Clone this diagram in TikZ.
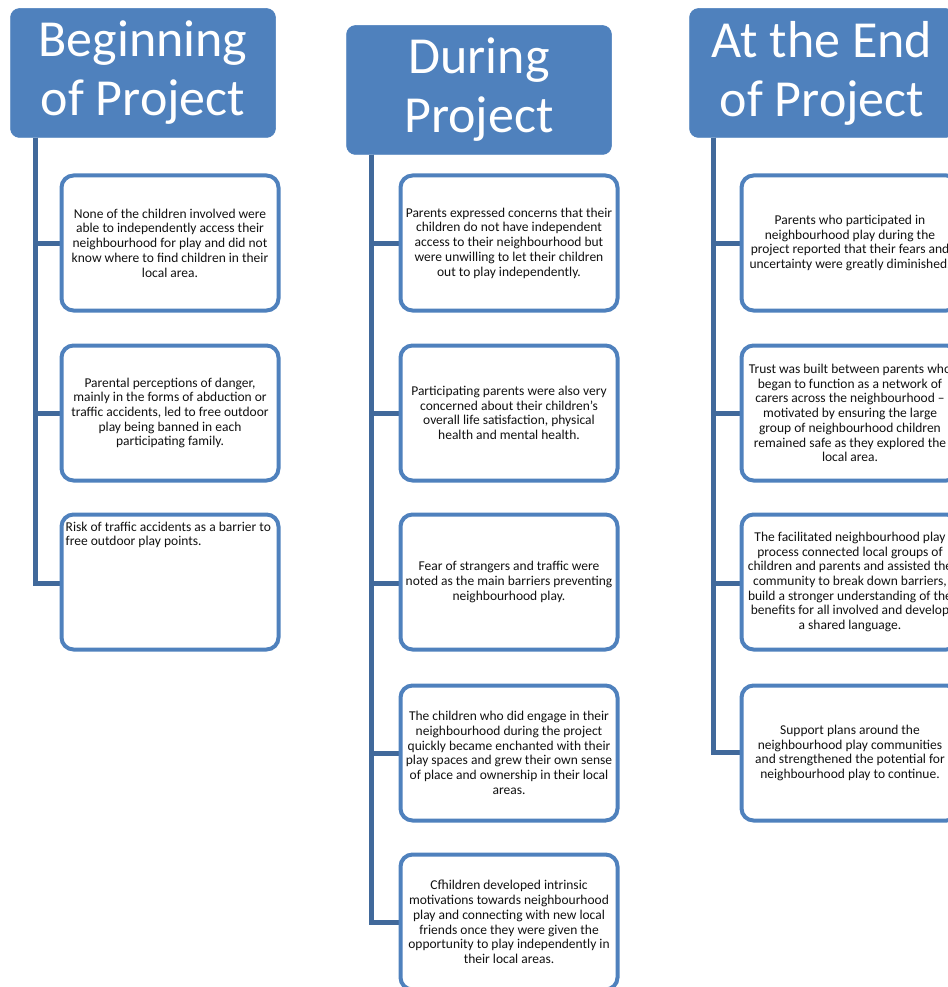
\documentclass[tikz,border=0pt]{standalone}
\usepackage{fontspec}
\setmainfont{Carlito}
\definecolor{headblue}{HTML}{4F81BD}
\definecolor{boxblue}{HTML}{4F81BD}
\definecolor{connblue}{HTML}{41699B}
\definecolor{txt}{HTML}{111111}
\begin{document}
\begin{tikzpicture}[x=1pt,y=-1pt,
  headbox/.style={fill=headblue, draw=headblue, line width=0.5pt, rounded corners=9pt,
    minimum width=265pt, minimum height=129pt, text=white, align=center,
    font=\fontsize{52}{59}\selectfont, inner sep=0pt},
  itembox/.style={draw=boxblue, line width=4pt, rounded corners=12pt, fill=white,
    minimum width=217pt, minimum height=135pt, align=center, text=txt,
    font=\fontsize{13.5}{14.7}\selectfont, inner sep=0pt},
  conn/.style={draw=connblue, line width=5pt}
]
\useasboundingbox (0,0) rectangle (947,987);

% column coordinates
\coordinate (v1) at (35,0);
\coordinate (v2) at (371,0);
\coordinate (v3) at (713,0);

% headers
\node[headbox] (h1) at (143,73) {\raisebox{-2pt}{\parbox{260pt}{\centering Beginning\\of Project}}};
\node[headbox] (h2) at (479,90) {\raisebox{-2pt}{\parbox{260pt}{\centering During\\Project}}};
\node[headbox] (h3) at (822,73) {\raisebox{-2pt}{\parbox{260pt}{\centering At the End\\of Project}}};

% connector ends
\coordinate (c11) at (62,243);
\coordinate (c12) at (62,413);
\coordinate (c13) at (62,583);
\coordinate (c21) at (401,243);
\coordinate (c22) at (401,413);
\coordinate (c23) at (401,583);
\coordinate (c24) at (401,753);
\coordinate (c25) at (401,922);
\coordinate (c31) at (742,243);
\coordinate (c32) at (742,413);
\coordinate (c33) at (742,583);
\coordinate (c34) at (742,752);

\draw[conn] (h1.south -| v1) |- (c11);
\draw[conn] (h1.south -| v1) |- (c12);
\draw[conn] (h1.south -| v1) |- (c13);
\draw[conn] (h2.south -| v2) |- (c21);
\draw[conn] (h2.south -| v2) |- (c22);
\draw[conn] (h2.south -| v2) |- (c23);
\draw[conn] (h2.south -| v2) |- (c24);
\draw[conn] (h2.south -| v2) |- (c25);
\draw[conn] (h3.south -| v3) |- (c31);
\draw[conn] (h3.south -| v3) |- (c32);
\draw[conn] (h3.south -| v3) |- (c33);
\draw[conn] (h3.south -| v3) |- (c34);

% column 1
\node[itembox] (b11) at (170,243) {None of the children involved were\\able to independently access their\\neighbourhood for play and did not\\know where to find children in their\\local area.};
\node[itembox] (b12) at (170,413) {Parental perceptions of danger,\\mainly in the forms of abduction or\\traffic accidents, led to free outdoor\\play being banned in each\\participating family.};
\node[itembox] (b13) at (170,582) {};
\node[anchor=north west, inner sep=0pt, align=left, text=txt,
  font=\fontsize{13.5}{14.7}\selectfont] (t13) at ([xshift=6pt,yshift=-9pt]b13.north west)
  {Risk of traffic accidents as a barrier to\\free outdoor play points.};

% column 2
\node[itembox] (b21) at (509,243) {Parents expressed concerns that their\\children do not have independent\\access to their neighbourhood but\\were unwilling to let their children\\out to play independently.};
\node[itembox] (b22) at (509,413) {Participating parents were also very\\concerned about their children's\\overall life satisfaction, physical\\health and mental health.};
\node[itembox] (b23) at (509,582) {Fear of strangers and traffic were\\noted as the main barriers preventing\\neighbourhood play.};
\node[itembox] (b24) at (509,753) {The children who did engage in their\\neighbourhood during the project\\quickly became enchanted with their\\play spaces and grew their own sense\\of place and ownership in their local\\areas.};
\node[itembox] (b25) at (509,922) {Cfhildren developed intrinsic\\motivations towards neighbourhood\\play and connecting with new local\\friends once they were given the\\opportunity to play independently in\\their local areas.};

% column 3
\node[itembox] (b31) at (850,243) {Parents who participated in\\neighbourhood play during the\\project reported that their fears and\\uncertainty were greatly diminished.};
\node[itembox] (b32) at (850,413) {Trust was built between parents who\\began to function as a network of\\carers across the neighbourhood --\\motivated by ensuring the large\\group of neighbourhood children\\remained safe as they explored the\\local area.};
\node[itembox] (b33) at (850,582) {The facilitated neighbourhood play\\process connected local groups of\\children and parents and assisted the\\community to break down barriers,\\build a stronger understanding of the\\benefits for all involved and develop\\a shared language.};
\node[itembox] (b34) at (850,753) {Support plans around the\\neighbourhood play communities\\and strengthened the potential for\\neighbourhood play to continue.};
\end{tikzpicture}
\end{document}
